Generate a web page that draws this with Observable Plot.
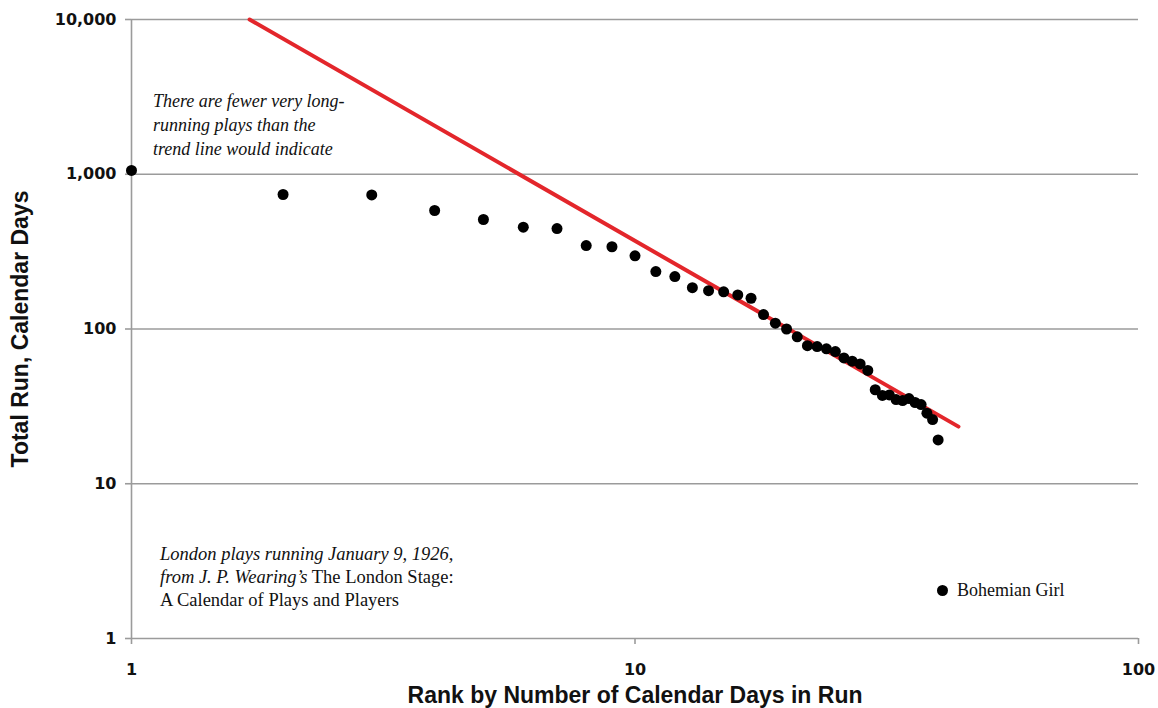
<!DOCTYPE html>
<html>
<head>
<meta charset="utf-8">
<script src="https://cdn.jsdelivr.net/npm/d3@7"></script>
<script src="https://cdn.jsdelivr.net/npm/@observablehq/plot@0.6"></script>
<style>
  html, body { margin: 0; padding: 0; background: #fff; }
  #wrap { position: relative; width: 1158px; height: 708px; }
  .note { position: absolute; font-family: "Liberation Serif", "DejaVu Serif", serif; font-size: 18px; line-height: 23.5px; color: #111; white-space: nowrap; }
  .note i { font-style: italic; }
  #legend { position: absolute; font-family: "Liberation Serif", serif; font-size: 18px; color: #111; display: flex; align-items: center; white-space: nowrap; }
  #legend span.dot { display: inline-block; width: 11px; height: 11px; border-radius: 50%; background: #000; margin-right: 9px; }
</style>
</head>
<body>
<div id="wrap"></div>
<script>
// Rank of each play (1 = longest running)
const ranks = [1,2,3,4,5,6,7,8,9,10,11,12,13,14,15,16,17,18,19,20,
               21,22,23,24,25,26,27,28,29,30,31,32,33,34,35,36,37,38,39,40];
// Total run, calendar days
const runDays = [1058,740,735,583,510,455,446,346,340,297,235,218,185,177,174,166,158,124,109,100,
                 89,78,77,74.5,71.5,65,62,59.5,54,40.5,37.2,37.5,35,34.5,35.5,33.5,32.5,28.6,26,19.2];
// Power-law trend line end points
const trendX = [1.716, 43.9];
const trendY = [10000, 23.4];
const xTicks = [1, 10, 100];
const yTicks = [1, 10, 100, 1000, 10000];
const seriesName = "Bohemian Girl";

const plays = ranks.map((r, i) => ({rank: r, days: runDays[i]}));
const trend = trendX.map((x, i) => ({rank: x, days: trendY[i]}));

const grid = "#9b9b9b";
const chart = Plot.plot({
  width: 1158,
  height: 708,
  marginLeft: 131,
  marginRight: 20,
  marginTop: 19,
  marginBottom: 70,
  style: {fontFamily: "DejaVu Sans", background: "#fff", color: "#111"},
  x: {type: "log", domain: [1, 100]},
  y: {type: "log", domain: [1, 10000]},
  marks: [
    Plot.ruleY(yTicks, {stroke: grid, strokeWidth: 1.6}),
    Plot.ruleX([1], {stroke: grid, strokeWidth: 1.6}),
    Plot.axisY({ticks: yTicks, tickFormat: d3.format(","), tickSize: 6, tickPadding: 9,
      stroke: grid, strokeWidth: 1.6, fontSize: 16, fontWeight: "bold", fill: "#111",
      label: "Total Run, Calendar Days", labelAnchor: "center", labelArrow: "none", labelOffset: 120}),
    Plot.axisX({ticks: xTicks, tickFormat: d3.format(","), tickSize: 6, tickPadding: 19,
      stroke: grid, strokeWidth: 1.6, fontSize: 16, fontWeight: "bold", fill: "#111",
      label: "Rank by Number of Calendar Days in Run", labelAnchor: "center", labelArrow: "none", labelOffset: 64}),
    Plot.line(trend, {x: "rank", y: "days", stroke: "#e3262b", strokeWidth: 4}),
    Plot.dot(plays, {x: "rank", y: "days", r: 5.5, fill: "#000"})
  ]
});
const wrap = document.getElementById("wrap");
wrap.appendChild(chart);
d3.select(chart).selectAll('[aria-label="y-axis label"] text, [aria-label="x-axis label"] text')
  .style("font-family", '"Liberation Sans Narrow", "Liberation Sans", sans-serif')
  .style("font-size", "23px").style("font-weight", "bold");

const n1 = document.createElement("div");
n1.className = "note";
n1.style.left = "153px"; n1.style.top = "89px";
n1.style.lineHeight = "24px";
n1.innerHTML = "<i>There are fewer very long-<br>running plays than the<br>trend line would indicate</i>";
wrap.appendChild(n1);

const n2 = document.createElement("div");
n2.className = "note";
n2.style.left = "160px"; n2.style.top = "543px";
n2.style.fontSize = "18.5px"; n2.style.lineHeight = "23px";
n2.innerHTML = "<i>London plays running January 9, 1926,<br>from J. P. Wearing’s</i> The London Stage:<br>A Calendar of Plays and Players";
wrap.appendChild(n2);

const lg = document.createElement("div");
lg.id = "legend";
lg.style.left = "937px"; lg.style.top = "580px";
lg.innerHTML = '<span class="dot"></span>' + seriesName;
wrap.appendChild(lg);
</script>
</body>
</html>
